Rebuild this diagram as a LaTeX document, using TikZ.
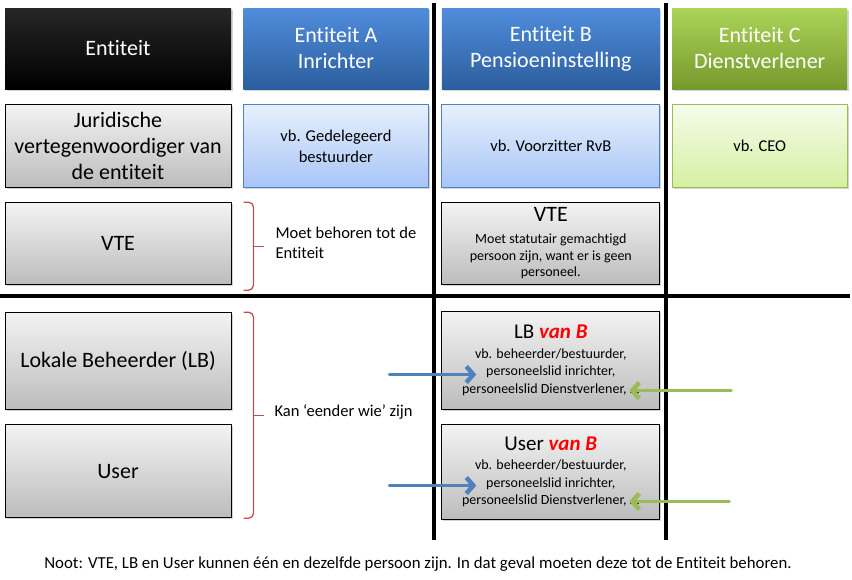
\documentclass[tikz,border=0pt]{standalone}
\usepackage{fontspec}
\setmainfont{Carlito}[Ligatures=NoCommon]
\usetikzlibrary{arrows.meta, positioning, shadows, calc}
\definecolor{hdrbluetop}{RGB}{80,141,220}
\definecolor{hdrbluebot}{RGB}{44,94,158}
\definecolor{hdrgreentop}{RGB}{172,212,88}
\definecolor{hdrgreenbot}{RGB}{118,153,44}
\definecolor{lightbluetop}{RGB}{232,240,253}
\definecolor{lightbluebot}{RGB}{167,197,247}
\definecolor{lightgreentop}{RGB}{246,252,234}
\definecolor{lightgreenbot}{RGB}{212,240,162}
\definecolor{graytop}{RGB}{243,243,243}
\definecolor{graybot}{RGB}{188,188,188}
\definecolor{officeblue}{RGB}{79,129,189}
\definecolor{officegreen}{RGB}{155,187,89}
\definecolor{bracered}{RGB}{192,80,77}

\begin{document}
\begin{tikzpicture}[
  x=1pt, y=-1pt,
  shadowed/.style={drop shadow={opacity=0.35, shadow xshift=1.5pt, shadow yshift=-1.5pt}},
  cell/.style={rectangle, shadowed, align=center, inner sep=2pt, font=\fontsize{22}{26}\selectfont},
  hdrblack/.style={cell, draw=none, top color=black!85, bottom color=black, text=white},
  hdrblue/.style={cell, draw=none, top color=hdrbluetop, bottom color=hdrbluebot, text=white},
  hdrgreen/.style={cell, draw=none, top color=hdrgreentop, bottom color=hdrgreenbot, text=white},
  graybox/.style={cell, draw=black, line width=1pt, top color=graytop, bottom color=graybot},
  bluebox/.style={cell, draw=officeblue, line width=0.8pt, top color=lightbluetop, bottom color=lightbluebot, font=\fontsize{16.5}{21}\selectfont},
  greenbox/.style={cell, draw=officegreen, line width=0.8pt, top color=lightgreentop, bottom color=lightgreenbot, font=\fontsize{16.5}{21}\selectfont},
  colE/.style={minimum width=226pt}, colA/.style={minimum width=185pt},
  colB/.style={minimum width=218pt}, colC/.style={minimum width=175pt},
  divider/.style={line width=4pt, black},
  redbrace/.style={bracered, line width=1.3pt, rounded corners=5pt},
  remark/.style={font=\fontsize{16.5}{20}\selectfont, align=left, anchor=west},
  arrA/.style={-{Straight Barb[length=7pt, width=16pt, line width=4.5pt]}, line width=3pt, line cap=round, line join=round, officeblue},
  arrC/.style={-{Straight Barb[length=7pt, width=16pt, line width=4.5pt]}, line width=3pt, line cap=round, line join=round, officegreen}
]
  \useasboundingbox (0,0) rectangle (852,579);

  % scheidingslijnen
  \draw[divider] (434,3) -- (434,540);
  \draw[divider] (666,3) -- (666,540);
  \draw[divider] (0,296) -- (850,296);

  % kopregel
  \node[hdrblack, colE, minimum height=81pt] (ent) at (118,48.5) {Entiteit};
  \node[hdrblue, colA, minimum height=81pt, right=12pt of ent] (entA) {Entiteit A\\Inrichter};
  \node[hdrblue, colB, minimum height=81pt, right=13pt of entA] (entB) {Entiteit B\\Pensioeninstelling};
  \node[hdrgreen, colC, minimum height=81pt, right=12pt of entB] (entC) {Entiteit C\\Dienstverlener};

  % juridische vertegenwoordiger
  \node[graybox, colE, minimum height=83pt, below=15pt of ent] (jur) {Juridische\\vertegenwoordiger van\\de entiteit};
  \node[bluebox, colA, minimum height=83pt, below=15pt of entA] (jurA) {vb. Gedelegeerd\\bestuurder};
  \node[bluebox, colB, minimum height=83pt, below=15pt of entB] (jurB) {vb. Voorzitter RvB};
  \node[greenbox, colC, minimum height=83pt, below=15pt of entC] (jurC) {vb. CEO};

  % VTE
  \node[graybox, colE, minimum height=82pt, below=14pt of jur] (vte) {VTE};
  \node[graybox, colB, minimum height=82pt, below=14pt of jurB, font=\fontsize{14}{16.7}\selectfont] (vteB) {{\fontsize{22}{24}\selectfont VTE}\\[5pt]Moet statutair gemachtigd\\persoon zijn, want er is geen\\personeel.};

  % LB en User
  \node[graybox, colE, minimum height=97pt, below=27pt of vte] (lb) {Lokale Beheerder (LB)};
  \node[graybox, colE, minimum height=93pt, below=14pt of lb] (user) {User};
  \node[graybox, colB, minimum height=98pt, below=26pt of vteB, font=\fontsize{14}{17.5}\selectfont] (lbB) {{\fontsize{21}{24}\selectfont LB \textcolor{red}{\bfseries\itshape van B}}\\[2pt]vb. beheerder/bestuurder,\\personeelslid inrichter,\\personeelslid Dienstverlener, \ldots};
  \node[graybox, colB, minimum height=95pt, below=14pt of lbB, font=\fontsize{14}{17.5}\selectfont] (userB) {{\fontsize{21}{24}\selectfont User \textcolor{red}{\bfseries\itshape van B}}\\[2pt]vb. beheerder/bestuurder,\\personeelslid inrichter,\\personeelslid Dienstverlener, \ldots};

  % accolades
  \draw[redbrace] ([xshift=12pt]vte.north east) -- ++(10,0) |- ([xshift=12pt,yshift=-5pt]vte.south east);
  \draw[redbrace] ([xshift=22pt,yshift=-2.5pt]vte.east) -- ++(10,0);
  \node[remark] (vteNote) at (272,243) {Moet behoren tot de\\Entiteit};
  \draw[redbrace] ([xshift=12pt]lb.north east) -- ++(10,0) |- ([xshift=12pt]user.south east);
  \coordinate (lbUserMid) at ($(lb.north east)!0.5!(user.south east)$);
  \draw[redbrace] ([xshift=22pt]lbUserMid) -- ++(10,0);
  \node[remark] (lbNote) at (271,412) {Kan ‘eender wie’ zijn};

  % pijlen
  \coordinate (lbFromA) at ([shift={(-52,14)}]lbB.west);
  \coordinate (lbToA) at ([shift={(35,14)}]lbB.west);
  \coordinate (lbFromC) at ([shift={(71,30)}]lbB.east);
  \coordinate (lbToC) at ([shift={(-31,30)}]lbB.east);
  \coordinate (userFromA) at ([shift={(-52,13.5)}]userB.west);
  \coordinate (userToA) at ([shift={(35,13.5)}]userB.west);
  \coordinate (userFromC) at ([shift={(69,29.5)}]userB.east);
  \coordinate (userToC) at ([shift={(-31,29.5)}]userB.east);
  \draw[arrA] (lbFromA) -- (lbToA);
  \draw[arrC] (lbFromC) -- (lbToC);
  \draw[arrA] (userFromA) -- (userToA);
  \draw[arrC] (userFromC) -- (userToC);

  \node[font=\fontsize{16.8}{20}\selectfont] (noot) at (418,564) {Noot: VTE, LB en User kunnen één en dezelfde persoon zijn. In dat geval moeten deze tot de Entiteit behoren.};
\end{tikzpicture}
\end{document}
